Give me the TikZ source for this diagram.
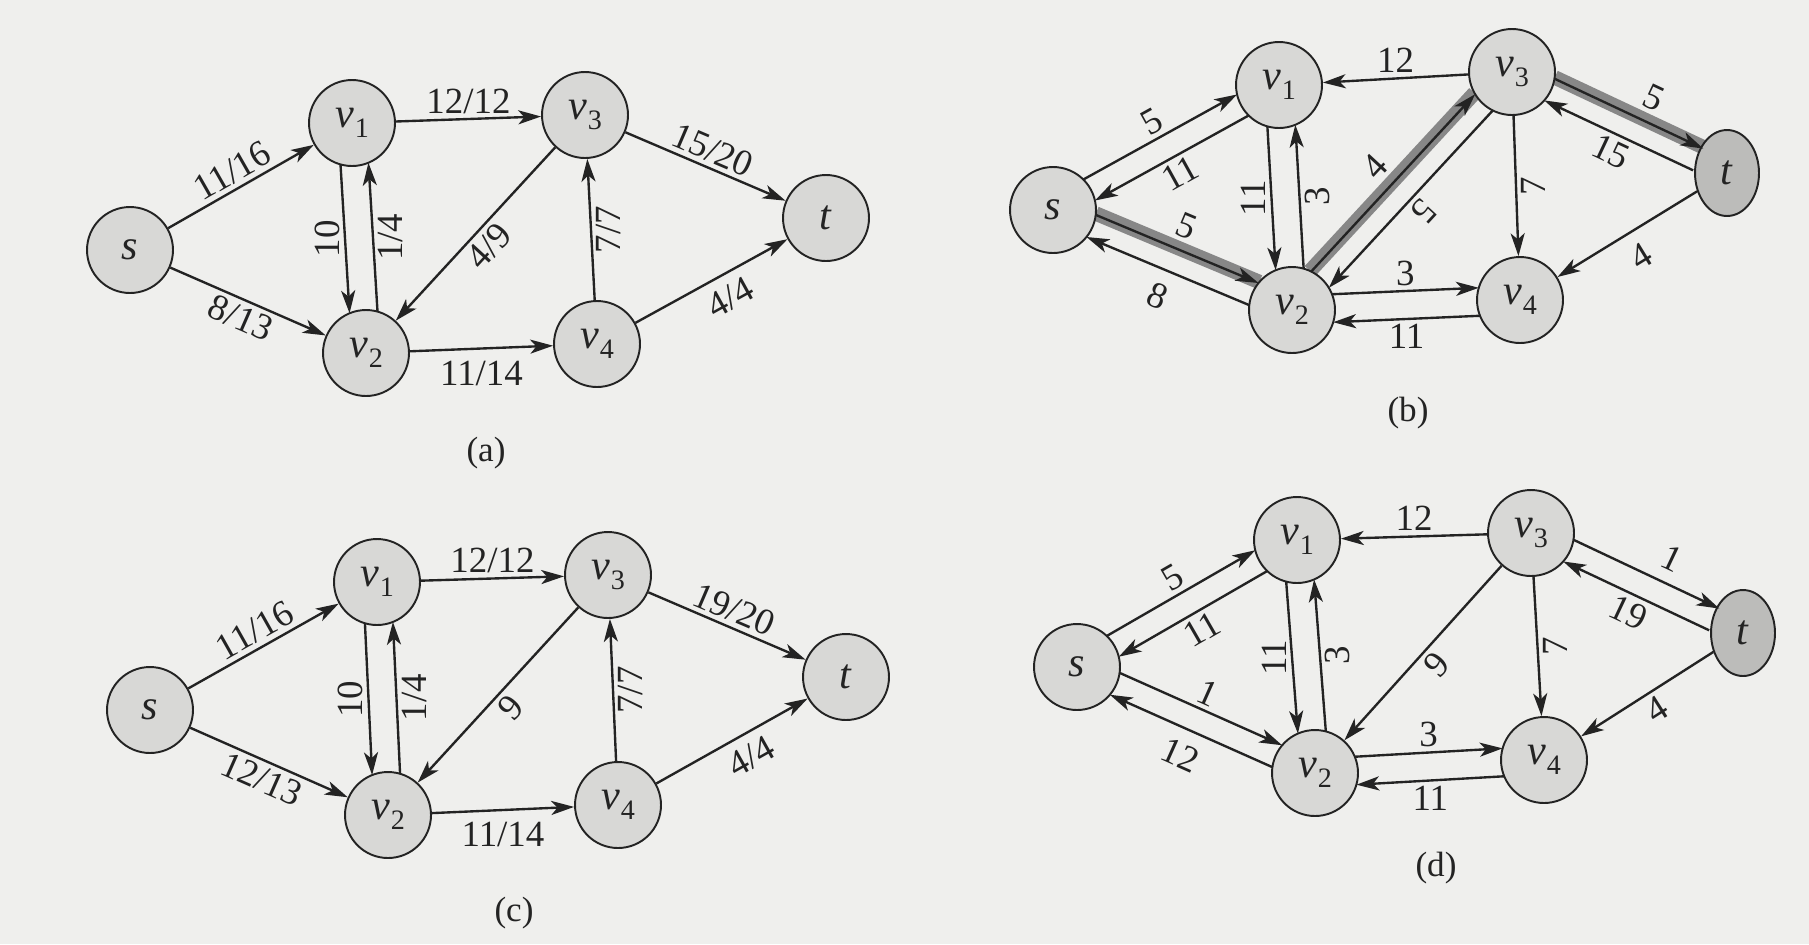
\documentclass[tikz,border=0pt]{standalone}
\usepackage{fontspec}
\setmainfont{Liberation Serif}
\usetikzlibrary{arrows.meta,calc,shapes.geometric}

\definecolor{paperc}{RGB}{239,239,237}
\definecolor{nodefill}{RGB}{216,216,214}
\definecolor{tdark}{RGB}{188,188,186}
\definecolor{inkc}{RGB}{35,35,35}
\definecolor{bandc}{RGB}{135,135,135}

% vertex name v_k with a large, lowered subscript
\newcommand{\vx}[1]{\textit{v}\kern0.5pt\raisebox{-0.5ex}{\fontsize{16}{16}\selectfont #1}}

\pgfdeclarelayer{paper}
\pgfdeclarelayer{under}
\pgfsetlayers{paper,under,main}

\begin{document}
\begin{tikzpicture}[x=0.02cm, y=-0.02cm,
  vtx/.style={circle, draw=inkc, fill=nodefill, line width=1.1pt,
    minimum size=1.72cm, inner sep=0pt, text=inkc,
    font=\fontsize{24}{26}\selectfont},
  sink/.style={ellipse, draw=inkc, fill=tdark, line width=1.1pt,
    minimum width=1.28cm, minimum height=1.72cm, inner sep=0pt, text=inkc,
    font=\fontsize{24}{26}\selectfont},
  flow/.style={draw=inkc, line width=1.35pt,
    -{Stealth[length=13pt,width=8pt,inset=3.5pt]}},
  lab/.style={font=\fontsize{21}{23}\selectfont, text=inkc, inner sep=2.5pt},
  caption/.style={font=\fontsize{20}{22}\selectfont, text=inkc},
  hilite/.style={draw=bandc, line width=0.29cm},
  % one of two antiparallel arcs: #1 = side offset, #2/#3 = border radius at start/end
  par/.style n args={3}{to path={
    let \p1=($(\tikztotarget)-(\tikztostart)$), \n1={atan2(\y1,\x1)},
        \n2={asin(#1/#2)}, \n3={asin(#1/#3)} in
    ($(\tikztostart)+(\n1+\n2:#2)$) -- ($(\tikztotarget)+(\n1+180-\n3:#3)$)
    \tikztonodes}},
  % labels standing upright beside vertical arcs, read from bottom to top
  vleft/.style={lab, rotate=90, above},
  vright/.style={lab, rotate=90, below},
]
\begin{pgfonlayer}{paper}
  \fill[paperc] (0,0) rectangle (1809,944);
\end{pgfonlayer}
\useasboundingbox (0,0) rectangle (1809,944);

% ---------------- (a) flow network ----------------
\node[vtx] (as)  at (130,250) {\textit{s}};
\node[vtx] (av1) at (352,123) {\vx{1}};
\node[vtx] (av3) at (585,115) {\vx{3}};
\node[vtx] (at)  at (826,218) {\textit{t}};
\node[vtx] (av2) at (366,353) {\vx{2}};
\node[vtx] (av4) at (597,344) {\vx{4}};
\draw[flow] (as) -- node[lab,sloped,above]{11/16} (av1);
\draw[flow] (as) -- node[lab,sloped,below]{8/13} (av2);
\draw[flow] (av1) -- node[lab,above]{12/12} (av3);
\draw[flow] (av3) -- node[lab,sloped,above]{15/20} (at);
\draw[flow] (av1) to[par={-0.28cm}{0.86cm}{0.86cm}] node[vleft]{10} (av2);
\draw[flow] (av2) to[par={-0.28cm}{0.86cm}{0.86cm}] node[vright]{1/4} (av1);
\draw[flow] (av3) -- node[lab,sloped,below]{4/9} (av2);
\draw[flow] (av4) -- node[vright]{7/7} (av3);
\draw[flow] (av2) -- node[lab,below=4pt]{11/14} (av4);
\draw[flow] (av4) -- node[lab,sloped,below=3pt,pos=0.55]{4/4} (at);
\node[caption] (acap) at (486,453) {(a)};

% ---------------- (b) residual network ----------------
\node[vtx]  (bs)  at (1053,210) {\textit{s}};
\node[vtx]  (bv1) at (1279,85)  {\vx{1}};
\node[vtx]  (bv3) at (1512,72)  {\vx{3}};
\node[sink] (bt)  at (1727,173) {\textit{t}};
\node[vtx]  (bv2) at (1292,310) {\vx{2}};
\node[vtx]  (bv4) at (1520,300) {\vx{4}};
\begin{pgfonlayer}{under}
  \draw[hilite] (bs) to[par={0.265cm}{0.86cm}{0.86cm}] (bv2);
  \draw[hilite] (bv2) to[par={0.265cm}{0.86cm}{0.86cm}] (bv3);
  \draw[hilite] (bv3) to[par={0.265cm}{0.86cm}{0.68cm}] (bt);
\end{pgfonlayer}
\draw[flow] (bs) to[par={0.24cm}{0.86cm}{0.86cm}] node[lab,sloped,above]{5} (bv1);
\draw[flow] (bv1) to[par={0.24cm}{0.86cm}{0.86cm}] node[lab,sloped,below]{11} (bs);
\draw[flow] (bs) to[par={0.24cm}{0.86cm}{0.86cm}] node[lab,sloped,above=4pt]{5} (bv2);
\draw[flow] (bv2) to[par={0.24cm}{0.86cm}{0.86cm}] node[lab,sloped,below=5pt]{8} (bs);
\draw[flow] (bv1) to[par={-0.28cm}{0.86cm}{0.86cm}] node[vleft]{11} (bv2);
\draw[flow] (bv2) to[par={-0.28cm}{0.86cm}{0.86cm}] node[vright]{3} (bv1);
\draw[flow] (bv3) -- node[lab,above]{12} (bv1);
\draw[flow] (bv2) to[par={0.24cm}{0.86cm}{0.86cm}] node[lab,sloped,above=4pt]{4} (bv3);
\draw[flow] (bv3) to[par={0.24cm}{0.86cm}{0.86cm}] node[lab,sloped,above,rotate=180]{5} (bv2);
\draw[flow] (bv3) to[par={0.24cm}{0.86cm}{0.68cm}] node[lab,sloped,above=4pt,pos=0.6]{5} (bt);
\draw[flow] (bt) to[par={0.24cm}{0.68cm}{0.86cm}] node[lab,sloped,below]{15} (bv3);
\draw[flow] (bv3) -- node[vright]{7} (bv4);
\draw[flow] (bv2) to[par={0.28cm}{0.86cm}{0.86cm}] node[lab,above]{3} (bv4);
\draw[flow] (bv4) to[par={0.28cm}{0.86cm}{0.86cm}] node[lab,below]{11} (bv2);
\draw[flow] (bt) -- node[lab,sloped,below=5pt]{4} (bv4);
\node[caption] (bcap) at (1408,413) {(b)};

% ---------------- (c) augmented flow ----------------
\node[vtx] (cs)  at (150,710) {\textit{s}};
\node[vtx] (cv1) at (377,582) {\vx{1}};
\node[vtx] (cv3) at (608,575) {\vx{3}};
\node[vtx] (ct)  at (846,677) {\textit{t}};
\node[vtx] (cv2) at (388,815) {\vx{2}};
\node[vtx] (cv4) at (618,805) {\vx{4}};
\draw[flow] (cs) -- node[lab,sloped,above]{11/16} (cv1);
\draw[flow] (cs) -- node[lab,sloped,below]{12/13} (cv2);
\draw[flow] (cv1) -- node[lab,above]{12/12} (cv3);
\draw[flow] (cv3) -- node[lab,sloped,above]{19/20} (ct);
\draw[flow] (cv1) to[par={-0.28cm}{0.86cm}{0.86cm}] node[vleft]{10} (cv2);
\draw[flow] (cv2) to[par={-0.28cm}{0.86cm}{0.86cm}] node[vright]{1/4} (cv1);
\draw[flow] (cv3) -- node[lab,sloped,below]{9} (cv2);
\draw[flow] (cv4) -- node[vright]{7/7} (cv3);
\draw[flow] (cv2) -- node[lab,below=4pt]{11/14} (cv4);
\draw[flow] (cv4) -- node[lab,sloped,below=3pt,pos=0.55]{4/4} (ct);
\node[caption] (ccap) at (514,913) {(c)};

% ---------------- (d) residual network of (c) ----------------
\node[vtx]  (ds)  at (1077,667) {\textit{s}};
\node[vtx]  (dv1) at (1297,540) {\vx{1}};
\node[vtx]  (dv3) at (1531,533) {\vx{3}};
\node[sink] (dt)  at (1743,633) {\textit{t}};
\node[vtx]  (dv2) at (1315,773) {\vx{2}};
\node[vtx]  (dv4) at (1544,760) {\vx{4}};
\draw[flow] (ds) to[par={0.24cm}{0.86cm}{0.86cm}] node[lab,sloped,above]{5} (dv1);
\draw[flow] (dv1) to[par={0.24cm}{0.86cm}{0.86cm}] node[lab,sloped,below]{11} (ds);
\draw[flow] (ds) to[par={0.24cm}{0.86cm}{0.86cm}] node[lab,sloped,above]{1} (dv2);
\draw[flow] (dv2) to[par={0.24cm}{0.86cm}{0.86cm}] node[lab,sloped,below=5pt]{12} (ds);
\draw[flow] (dv1) to[par={-0.28cm}{0.86cm}{0.86cm}] node[vleft]{11} (dv2);
\draw[flow] (dv2) to[par={-0.28cm}{0.86cm}{0.86cm}] node[vright]{3} (dv1);
\draw[flow] (dv3) -- node[lab,above]{12} (dv1);
\draw[flow] (dv3) -- node[lab,sloped,below]{9} (dv2);
\draw[flow] (dv3) -- node[vright]{7} (dv4);
\draw[flow] (dv3) to[par={0.24cm}{0.86cm}{0.68cm}] node[lab,sloped,above=4pt,pos=0.6]{1} (dt);
\draw[flow] (dt) to[par={0.24cm}{0.68cm}{0.86cm}] node[lab,sloped,below]{19} (dv3);
\draw[flow] (dv2) to[par={0.28cm}{0.86cm}{0.86cm}] node[lab,above]{3} (dv4);
\draw[flow] (dv4) to[par={0.28cm}{0.86cm}{0.86cm}] node[lab,below]{11} (dv2);
\draw[flow] (dt) -- node[lab,sloped,below]{4} (dv4);
\node[caption] (dcap) at (1436,868) {(d)};
\end{tikzpicture}
\end{document}
